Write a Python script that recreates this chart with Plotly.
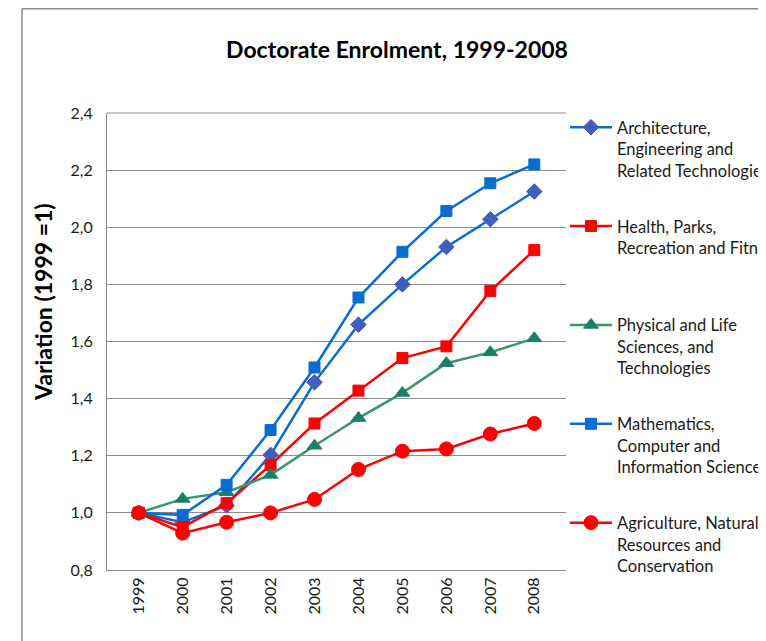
import plotly.graph_objects as go

years = ["1999", "2000", "2001", "2002", "2003", "2004", "2005", "2006", "2007", "2008"]

architecture = [1.0, 0.967, 1.026, 1.203, 1.457, 1.659, 1.800, 1.931, 2.028, 2.125]
health = [1.0, 0.950, 1.034, 1.168, 1.313, 1.428, 1.542, 1.583, 1.777, 1.920]
physical = [1.0, 1.049, 1.072, 1.133, 1.235, 1.332, 1.420, 1.524, 1.562, 1.611]
mathematics = [1.0, 0.993, 1.098, 1.290, 1.509, 1.754, 1.914, 2.057, 2.154, 2.220]
agriculture = [1.0, 0.929, 0.967, 1.000, 1.047, 1.152, 1.216, 1.224, 1.276, 1.313]

y_ticks = [0.8, 1.0, 1.2, 1.4, 1.6, 1.8, 2.0, 2.2, 2.4]
y_tick_labels = ["0,8", "1,0", "1,2", "1,4", "1,6", "1,8", "2,0", "2,2", "2,4"]

names = [
    "Architecture,<br>Engineering and<br>Related Technologies",
    "Health, Parks,<br>Recreation and Fitness<br> ",
    "Physical and Life<br>Sciences, and<br>Technologies",
    "Mathematics,<br>Computer and<br>Information Sciences",
    "Agriculture, Natural<br>Resources and<br>Conservation",
]

series = [architecture, health, physical, mathematics, agriculture]
line_colors = ["#0A6CD0", "#FF0000", "#339966", "#0A6CD0", "#FF0000"]
marker_colors = ["#3D5FC0", "#FF0000", "#1A7F6A", "#0A6CD0", "#FF0000"]
marker_line = ["#6A4FA0", "#FF0000", "#1A7F6A", "#0A6CD0", "#FF0000"]
symbols = ["diamond", "square", "triangle-up", "square", "circle"]
sizes = [12, 11, 13, 11, 14]

fig = go.Figure()
for i in range(5):
    fig.add_trace(go.Scatter(
        x=years, y=series[i], name=names[i], mode="lines+markers",
        line=dict(color=line_colors[i], width=2.5),
        marker=dict(symbol=symbols[i], size=sizes[i], color=marker_colors[i],
                    line=dict(color=marker_line[i], width=1)),
        legendgroup=str(i),
    ))

font_family = "Lato, 'Liberation Sans', sans-serif"

# figure pixel geometry (page has an 8px body margin)
W, H = 766, 641
PL, PR, PT, PB = 99, 558, 105, 562
pw, ph = PR - PL, PB - PT

def px(x):
    return (x - PL) / pw

def py(y):
    return (PB - y) / ph

fig.update_layout(
    width=W, height=H,
    margin=dict(l=PL, r=W - PR, t=PT, b=H - PB, autoexpand=False),
    paper_bgcolor="white", plot_bgcolor="white",
    font=dict(family=font_family, size=16, color="#1a1a1a"),
    title=dict(text="<b>Doctorate Enrolment, 1999-2008</b>", x=389 / W, xanchor="center",
               y=1 - 42 / H, yanchor="middle", font=dict(size=23, color="black")),
    xaxis=dict(type="category", showgrid=False, showline=True, linecolor="#8c8c8c",
               linewidth=1, tickangle=-90, ticks="", tickfont=dict(size=16),
               mirror=False),
    yaxis=dict(range=[0.8, 2.4], tickvals=y_ticks, ticktext=y_tick_labels,
               showgrid=True, gridcolor="#8c8c8c", gridwidth=1, showline=True,
               linecolor="#8c8c8c", linewidth=1, ticks="", zeroline=False,
               tickfont=dict(size=16), ticklabelstandoff=10),
    legend=dict(x=px(557), xanchor="left", y=py(102), yanchor="top",
                valign="top", font=dict(size=16.5), tracegroupgap=31.5, itemwidth=42,
                bgcolor="rgba(0,0,0,0)", maxheight=900),
    showlegend=True,
)

fig.add_annotation(text="<b>Variation (1999 =1)</b>", xref="paper", yref="paper",
                   x=px(35), y=py(294), textangle=-90,
                   showarrow=False, font=dict(size=23, color="black"),
                   xanchor="center", yanchor="middle")

# outer chart frame
fig.add_shape(type="line", xref="paper", yref="paper",
              x0=px(14), x1=px(14), y0=py(H + 20), y1=py(0.75),
              line=dict(color="#8c8c8c", width=1.5))
fig.add_shape(type="line", xref="paper", yref="paper",
              x0=px(14), x1=px(W + 20), y0=py(0.75), y1=py(0.75),
              line=dict(color="#8c8c8c", width=1.5))
# top plot border
fig.add_shape(type="line", xref="paper", yref="paper", x0=0, x1=1, y0=1, y1=1,
              line=dict(color="#8c8c8c", width=1))

fig.write_html("out.html")
